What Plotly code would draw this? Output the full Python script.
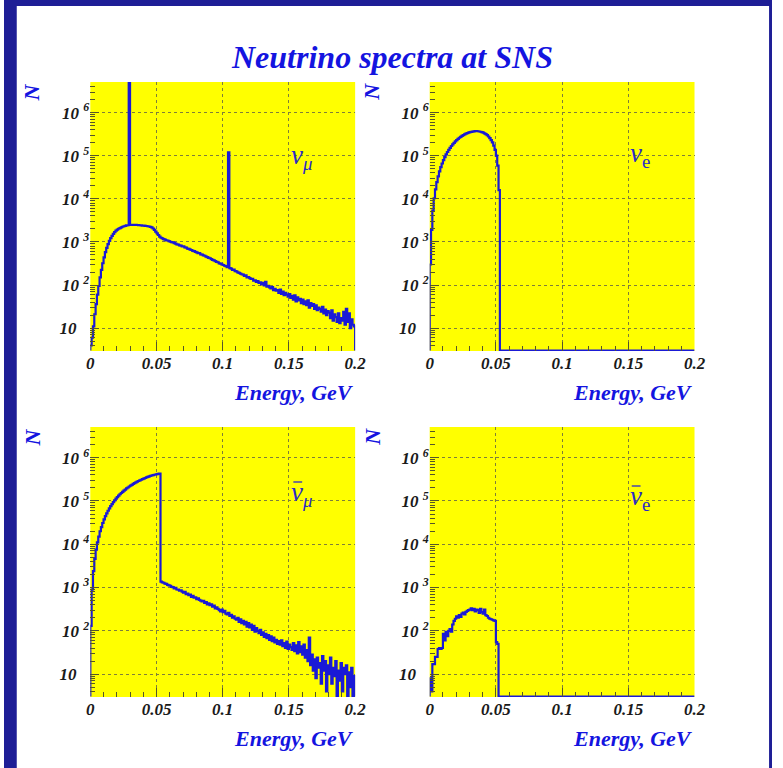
import math
import plotly.graph_objects as go

# ---------------------------------------------------------------- data
# Energy histograms, 1 MeV bins from 0 to 0.2 GeV (counts per bin, N)
BIN_WIDTH = 0.001
N_BINS = 200

NU_MU = [
    4, 6, 11, 21, 36, 60, 95, 150, 225, 320,
    440, 580, 730, 890, 1060, 1220, 1380, 1540, 1690, 1820,
    1930, 2020, 2100, 2180, 2250, 2310, 2360, 2410, 2440, 1.0e7,
    2470, 2490, 2500, 2480, 2500, 2470, 2460, 2440, 2420, 2400,
    2390, 2370, 2340, 2310, 2280, 2240, 2170, 2050, 1900, 1740,
    1590, 1450, 1330, 1250, 1210, 1160, 1130, 1090, 1080, 1040,
    1010, 990, 975, 935, 915, 880, 870, 835, 820, 790,
    785, 745, 735, 700, 690, 665, 650, 620, 612, 590,
    575, 552, 548, 515, 508, 488, 478, 455, 446, 425,
    418, 398, 385, 372, 360, 346, 338, 318, 314, 300,
    292, 280, 276, 260, 1.2e5, 248, 240, 224, 228, 210,
    208, 196, 192, 184, 178, 174, 162, 168, 150, 152,
    144, 138, 140, 126, 128, 118, 124, 112, 116, 104,
    112, 98, 118, 92, 96, 88, 84, 90, 76, 82,
    74, 76, 66, 78, 62, 70, 58, 66, 60, 54,
    62, 50, 56, 46, 58, 42, 52, 44, 48, 38,
    46, 36, 42, 34, 44, 30, 38, 33, 36, 28,
    34, 26, 30, 28, 24, 31, 22, 27, 20, 25,
    23, 17, 26, 15, 21, 18, 14, 22, 13, 17,
    15, 24, 12, 28, 14, 22, 10, 16, 12, 11,
]

NU_E = [
    300, 1900, 5300, 10300, 16600, 24300, 33200, 43300, 54300, 66000,
    79000, 93000, 107000, 122000, 137000, 152000, 168000, 184000, 199000, 215000,
    231000, 246000, 261000, 275000, 288000, 301000, 314000, 325000, 335000, 344000,
    352000, 359000, 364000, 368000, 370000, 370000, 369000, 365000, 360000, 352000,
    343000, 330000, 316000, 299000, 279000, 257000, 231000, 203000, 172000, 137000,
    100000, 59000, 16000,
] + [0] * 147

NU_MU_BAR = [
    130, 900, 2400, 4600, 7500, 11000, 15000, 20000, 25000, 31000,
    37600, 44500, 52000, 59500, 67500, 76000, 85000, 94000, 103000, 113000,
    123000, 133000, 143000, 153000, 163000, 174000, 184000, 195000, 205000, 216000,
    227000, 237000, 248000, 258000, 269000, 279000, 290000, 300000, 310000, 320000,
    330000, 340000, 350000, 360000, 370000, 380000, 388000, 396000, 404000, 410000,
    416000, 422000, 430000,
    1370, 1320, 1290, 1230, 1210, 1150, 1120,
    1100, 1040, 1020, 960, 980, 900, 890, 850, 860, 800,
    760, 790, 700, 720, 670, 690, 610, 640, 580, 590,
    540, 560, 520, 500, 480, 490, 440, 460, 410, 430,
    390, 410, 360, 380, 330, 350, 320, 300, 280, 310,
    270, 290, 250, 240, 260, 220, 235, 200, 215, 190,
    180, 200, 160, 185, 150, 170, 140, 160, 125, 150,
    120, 140, 105, 130, 95, 115, 100, 88, 105, 80,
    92, 72, 85, 68, 80, 62, 74, 58, 70, 54,
    62, 50, 58, 48, 60, 44, 52, 40, 56, 38,
    48, 42, 36, 52, 34, 46, 30, 55, 32, 44,
    28, 48, 24, 36, 20, 70, 16, 28, 12, 22,
    8, 24, 14, 18, 6, 26, 12, 20, 4, 16,
    10, 24, 6, 14, 9, 20, 0, 12, 7, 18,
    4, 14, 10, 16, 0, 11, 5, 14, 3, 9,
]

NU_E_BAR = [
    8, 4, 17, 17, 25, 25, 38, 40, 38, 40,
    85, 60, 95, 75, 100, 110, 95, 140, 170, 190,
    215, 200, 230, 210, 250, 265, 240, 275, 290, 300,
    310, 330, 300, 320, 280, 310, 300, 260, 320, 270,
    250, 310, 230, 220, 200, 190, 185, 180, 175, 170,
    55, 50, 0,
] + [0] * 147

X_TICKS = [0, 0.05, 0.1, 0.15, 0.2]
X_TICK_TEXT = ["0", "0.05", "0.1", "0.15", "0.2"]
Y_TICKS = [10, 1e2, 1e3, 1e4, 1e5, 1e6]
Y_TICK_TEXT = ["10\u00a0\u00a0\u00a0", "10 <sup>2</sup>", "10 <sup>3</sup>",
               "10 <sup>4</sup>", "10 <sup>5</sup>", "10 <sup>6</sup>"]
SPECIES = ["<i>\u03bd</i><sub><i>\u03bc</i></sub>", "<i>\u03bd</i><sub>e</sub>",
           "<i>\u03bd</i><sub><i>\u03bc</i></sub>", "<i>\u03bd</i><sub>e</sub>"]
SPECIES_BAR = [False, False, True, True]

TITLE = "Neutrino spectra at SNS"
X_TITLE = "Energy, GeV"
Y_TITLE = "N"

# ---------------------------------------------------------------- layout
W, H = 783, 768
Y_RANGE = [0.47, 6.71]               # log10 of the vertical range
FLOOR = 10 ** (Y_RANGE[0] + 0.012)   # empty bins sit on the frame floor

BLUE = "#1414e0"
LINE = "#1a1ad6"
LABEL_BLUE = "#2a2ac8"
YELLOW = "#ffff00"
GRID = "#7e7e3a"
TICK = "#55552a"
SERIF = "Liberation Serif, Times New Roman, DejaVu Serif, serif"

# pixel boxes of the four frames: (x0, x1, y0, y1), y measured from top
FRAMES = [(88, 358, 82, 351), (434, 704, 82, 351),
          (88, 358, 427, 697), (434, 704, 427, 697)]
SERIES = [NU_MU, NU_E, NU_MU_BAR, NU_E_BAR]
SPECIES_POS = [(291, 157), (636, 155), (291, 494), (636, 498)]


def px_x(p):
    return p / W


def px_y(p):
    return 1 - p / H


edges = [i * BIN_WIDTH for i in range(N_BINS + 1)]
minor_x = [k * 0.01 for k in range(1, 20) if k % 5]
minor_y = [m * 10 ** d for d in range(0, 7) for m in range(2, 10)
           if Y_RANGE[0] < math.log10(m * 10 ** d) < Y_RANGE[1]]

fig = go.Figure()
tickfont = dict(family=SERIF, size=17, color="#1a1a1a", weight="bold", style="italic")

for i, (vals, (x0, x1, y0, y1)) in enumerate(zip(SERIES, FRAMES)):
    n = "" if i == 0 else str(i + 1)
    xs = [0.0] + edges[:-1] + [edges[-1], edges[-1]]
    ys = [FLOOR] + [max(v, FLOOR) for v in vals] + [max(vals[-1], FLOOR), FLOOR]
    fig.add_trace(go.Scatter(
        x=xs, y=ys, mode="lines", line=dict(color=LINE, width=2.2, shape="hv"),
        xaxis="x" + n, yaxis="y" + n, showlegend=False, hoverinfo="skip"))

    fig.layout["xaxis" + n] = dict(
        domain=[px_x(x0), px_x(x1)], anchor="y" + n, range=[0, 0.2],
        tickmode="array", tickvals=X_TICKS, ticktext=X_TICK_TEXT,
        ticks="inside", ticklen=9, tickwidth=1, tickcolor=TICK,
        showgrid=True, gridcolor=GRID, griddash="dot", gridwidth=1,
        minor=dict(tickmode="array", tickvals=minor_x, ticks="inside",
                   ticklen=5, tickwidth=1, tickcolor=TICK, showgrid=False),
        zeroline=False, showline=False, tickfont=tickfont, fixedrange=True)
    fig.layout["yaxis" + n] = dict(
        domain=[px_y(y1), px_y(y0)], anchor="x" + n, type="log", range=Y_RANGE,
        tickmode="array", tickvals=Y_TICKS, ticktext=Y_TICK_TEXT,
        ticks="inside", ticklen=9, tickwidth=1, tickcolor=TICK,
        showgrid=True, gridcolor=GRID, griddash="dot", gridwidth=1,
        minor=dict(tickmode="array", tickvals=minor_y, ticks="inside",
                   ticklen=5, tickwidth=1, tickcolor=TICK, showgrid=False),
        zeroline=False, showline=False, tickfont=tickfont, fixedrange=True)

annotations = [dict(
    text=TITLE, x=px_x(396), y=px_y(57), xref="paper", yref="paper",
    xanchor="center", yanchor="middle", showarrow=False,
    font=dict(family=SERIF, size=32, color=BLUE, weight="bold", style="italic"))]

# dark slide border around the white sheet
DARK = "#1e1e96"
shapes = [
    dict(type="rect", xref="paper", yref="paper", x0=0, x1=px_x(13), y0=0, y1=1,
         fillcolor=DARK, line=dict(width=0), layer="below"),
    dict(type="rect", xref="paper", yref="paper", x0=0, x1=1, y0=px_y(6), y1=1,
         fillcolor=DARK, line=dict(width=0), layer="below"),
    dict(type="rect", xref="paper", yref="paper", x0=px_x(780), x1=1, y0=0, y1=1,
         fillcolor=DARK, line=dict(width=0), layer="below"),
]

for (x0, x1, y0, y1), label, bar, (sx, sy) in zip(FRAMES, SPECIES, SPECIES_BAR, SPECIES_POS):
    annotations.append(dict(
        text=X_TITLE, x=px_x(x1 + 1), y=px_y(y1 + 41), xref="paper", yref="paper",
        xanchor="right", yanchor="middle", showarrow=False,
        font=dict(family=SERIF, size=22, color=BLUE, weight="bold", style="italic")))
    annotations.append(dict(
        text=Y_TITLE, x=px_x(x0 - 59), y=px_y(y0 + 10), xref="paper", yref="paper",
        xanchor="center", yanchor="middle", showarrow=False, textangle=-90,
        font=dict(family=SERIF, size=22, color=BLUE, weight="bold", style="italic")))
    annotations.append(dict(
        text=label, x=px_x(sx), y=px_y(sy), xref="paper", yref="paper",
        xanchor="left", yanchor="middle", showarrow=False,
        font=dict(family=SERIF, size=27, color=LABEL_BLUE)))
    if bar:
        # antineutrino bar over the nu
        shapes.append(dict(type="line", xref="paper", yref="paper",
                           x0=px_x(sx + 4), x1=px_x(sx + 13),
                           y0=px_y(sy - 12), y1=px_y(sy - 12),
                           line=dict(color=LABEL_BLUE, width=1.3)))

fig.update_layout(
    width=W, height=H, autosize=False,
    margin=dict(l=0, r=0, t=0, b=0, pad=0),
    paper_bgcolor="white", plot_bgcolor=YELLOW,
    annotations=annotations, shapes=shapes, showlegend=False)

fig.write_html("out.html", config={"displayModeBar": False})
